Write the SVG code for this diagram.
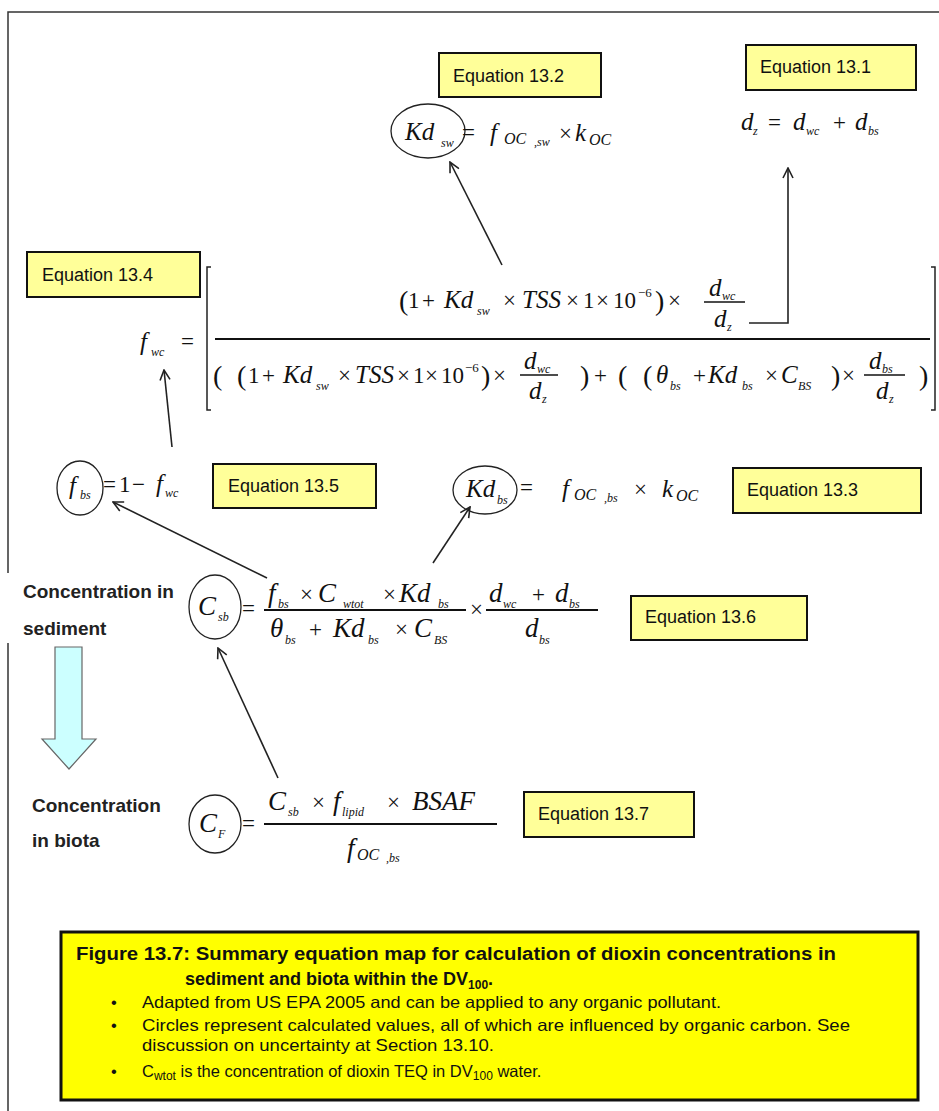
<svg xmlns="http://www.w3.org/2000/svg" width="939" height="1111" viewBox="0 0 939 1111">
<defs>
<style>
.box{fill:#FFFF99;stroke:#111;stroke-width:2}
.lbl{font-family:"Liberation Sans",Arial,sans-serif;font-size:18px;fill:#111}
.side{font-family:"Liberation Sans",Arial,sans-serif;font-size:19px;font-weight:bold;fill:#222}
.m{font-family:"Liberation Serif","Times New Roman",serif;fill:#111}
.v{font-style:italic;font-size:25px}
.vl{font-style:italic;font-size:27px}
.vm{font-style:italic;font-size:16px}
.vs{font-style:italic;font-size:12px}
.op{font-size:23px}
.p{font-size:28px}
.sup{font-size:13px}
.circ{fill:none;stroke:#222;stroke-width:1.3}
.fl{stroke:#111;stroke-width:2;fill:none}
.br{stroke:#222;stroke-width:1.5;fill:none}
.conn{fill:none;stroke:#222;stroke-width:1.6;marker-end:url(#ah)}
.cap{font-family:"Liberation Sans",Arial,sans-serif;fill:#111}
.capb{font-size:18px;font-weight:bold}
.capt{font-size:16.5px}
</style>
<marker id="ah" viewBox="0 0 12 12" refX="11" refY="6" markerWidth="12" markerHeight="12" markerUnits="userSpaceOnUse" orient="auto">
<path d="M1,1 L11,6 L1,11" fill="none" stroke="#222" stroke-width="1.6"/>
</marker>
</defs>
<rect width="939" height="1111" fill="#fff"/>
<path d="M8,1111 V643 M8,573 V12 H939" fill="none" stroke="#333" stroke-width="1.5"/>

<g id="connectors">
<path class="conn" d="M502,265 L450,162"/>
<path class="conn" d="M749,323 H788 V168"/>
<path class="conn" d="M172,447 L164,370"/>
<path class="conn" d="M267,578 L113,502"/>
<path class="conn" d="M433,563 L470,507"/>
<path class="conn" d="M278,778 L218,648"/>
</g>

<g id="eq13-2">
<rect class="box" x="439" y="53" width="162" height="44"/>
<text class="lbl" x="453" y="82">Equation 13.2</text>
<ellipse class="circ" cx="428" cy="131" rx="37" ry="27"/>
<text class="m v" x="405" y="140">Kd</text>
<text class="m vs" x="441" y="147">sw</text>
<text class="m op" x="462" y="140">=</text>
<text class="m v" x="490" y="141">f</text>
<text class="m vm" x="504" y="144">OC</text>
<text class="m vs" x="534" y="146">,sw</text>
<text class="m op" x="559" y="141">×</text>
<text class="m v" x="575" y="141">k</text>
<text class="m vm" x="589" y="145">OC</text>
</g>

<g id="eq13-1">
<rect class="box" x="746" y="45" width="170" height="45"/>
<text class="lbl" x="760" y="73">Equation 13.1</text>
<text class="m v" x="741" y="130">d</text>
<text class="m vs" x="753" y="135">z</text>
<text class="m op" x="768" y="130">=</text>
<text class="m v" x="793" y="130">d</text>
<text class="m vs" x="806" y="135">wc</text>
<text class="m op" x="833" y="130">+</text>
<text class="m v" x="855" y="130">d</text>
<text class="m vs" x="868" y="135">bs</text>
</g>

<g id="eq13-4">
<rect class="box" x="27" y="252" width="173" height="45"/>
<text class="lbl" x="42" y="281">Equation 13.4</text>
<text class="m v" x="140" y="350">f</text>
<text class="m vs" x="151" y="356">wc</text>
<text class="m op" x="181" y="349">=</text>
<path class="br" d="M211,267 H207 V410 H211 M931,267 H935 V410 H931"/>
<line class="fl" x1="215" y1="339" x2="930" y2="339"/>
<!-- numerator -->
<text class="m p" x="399" y="310">(</text>
<text class="m op" x="408" y="308">1</text>
<text class="m op" x="422" y="308">+</text>
<text class="m v" x="444" y="308">Kd</text>
<text class="m vs" x="477" y="315">sw</text>
<text class="m op" x="503" y="308">×</text>
<text class="m v" x="522" y="308">TSS</text>
<text class="m op" x="566" y="308">×</text>
<text class="m op" x="583" y="308">1</text>
<text class="m op" x="596" y="308">×</text>
<text class="m op" x="613" y="308">10</text>
<text class="m sup" x="638" y="297">−6</text>
<text class="m p" x="655" y="310">)</text>
<text class="m op" x="668" y="308">×</text>
<line class="fl" x1="704" y1="302" x2="745" y2="302" style="stroke-width:1.5"/>
<text class="m v" x="709" y="296">d</text>
<text class="m vs" x="722" y="300">wc</text>
<text class="m v" x="714" y="327">d</text>
<text class="m vs" x="727" y="331">z</text>
<!-- denominator -->
<text class="m p" x="213" y="385">(</text>
<text class="m p" x="237" y="385">(</text>
<text class="m op" x="248" y="383">1</text>
<text class="m op" x="262" y="383">+</text>
<text class="m v" x="283" y="383">Kd</text>
<text class="m vs" x="316" y="390">sw</text>
<text class="m op" x="338" y="383">×</text>
<text class="m v" x="355" y="383">TSS</text>
<text class="m op" x="397" y="383">×</text>
<text class="m op" x="413" y="383">1</text>
<text class="m op" x="425" y="383">×</text>
<text class="m op" x="441" y="383">10</text>
<text class="m sup" x="465" y="372">−6</text>
<text class="m p" x="481" y="385">)</text>
<text class="m op" x="493" y="383">×</text>
<line class="fl" x1="520" y1="375" x2="558" y2="375" style="stroke-width:1.5"/>
<text class="m v" x="524" y="369">d</text>
<text class="m vs" x="537" y="373">wc</text>
<text class="m v" x="529" y="399">d</text>
<text class="m vs" x="542" y="403">z</text>
<text class="m p" x="580" y="385">)</text>
<text class="m op" x="594" y="383">+</text>
<text class="m p" x="618" y="385">(</text>
<text class="m p" x="643" y="385">(</text>
<text class="m v" x="656" y="383">θ</text>
<text class="m vs" x="670" y="390">bs</text>
<text class="m op" x="693" y="383">+</text>
<text class="m v" x="708" y="383">Kd</text>
<text class="m vs" x="742" y="390">bs</text>
<text class="m op" x="765" y="383">×</text>
<text class="m v" x="781" y="383">C</text>
<text class="m vs" x="798" y="390">BS</text>
<text class="m p" x="831" y="385">)</text>
<text class="m op" x="842" y="383">×</text>
<line class="fl" x1="864" y1="375" x2="905" y2="375" style="stroke-width:1.5"/>
<text class="m v" x="869" y="369">d</text>
<text class="m vs" x="882" y="373">bs</text>
<text class="m v" x="876" y="399">d</text>
<text class="m vs" x="889" y="403">z</text>
<text class="m p" x="919" y="385">)</text>
</g>

<g id="eq13-5">
<rect class="box" x="213" y="464" width="163" height="44"/>
<text class="lbl" x="228" y="492">Equation 13.5</text>
<ellipse class="circ" cx="80" cy="488" rx="23" ry="27"/>
<text class="m v" x="69" y="494">f</text>
<text class="m vs" x="80" y="499">bs</text>
<text class="m op" x="103" y="492">=</text>
<text class="m op" x="119" y="492">1</text>
<text class="m op" x="132" y="492">−</text>
<text class="m v" x="156" y="492">f</text>
<text class="m vs" x="165" y="497">wc</text>
</g>

<g id="eq13-3">
<rect class="box" x="733" y="468" width="188" height="45"/>
<text class="lbl" x="747" y="496">Equation 13.3</text>
<ellipse class="circ" cx="485" cy="490" rx="32" ry="24"/>
<text class="m v" x="466" y="497">Kd</text>
<text class="m vs" x="497" y="504">bs</text>
<text class="m op" x="520" y="495">=</text>
<text class="m v" x="562" y="497">f</text>
<text class="m vm" x="574" y="500">OC</text>
<text class="m vs" x="604" y="502">,bs</text>
<text class="m op" x="634" y="497">×</text>
<text class="m v" x="662" y="497">k</text>
<text class="m vm" x="676" y="501">OC</text>
</g>

<g id="eq13-6">
<rect class="box" x="631" y="596" width="176" height="44"/>
<text class="lbl" x="645" y="623">Equation 13.6</text>
<text class="side" x="23" y="598">Concentration in</text>
<text class="side" x="23" y="635">sediment</text>
<ellipse class="circ" cx="215" cy="607" rx="26" ry="32"/>
<text class="m vl" x="198" y="615">C</text>
<text class="m vs" x="218" y="621">sb</text>
<text class="m op" x="242" y="616">=</text>
<text class="m vl" x="268" y="602">f</text>
<text class="m vs" x="278" y="608">bs</text>
<text class="m op" x="300" y="602">×</text>
<text class="m vl" x="318" y="602">C</text>
<text class="m vs" x="343" y="608">wtot</text>
<text class="m op" x="383" y="602">×</text>
<text class="m vl" x="399" y="602">Kd</text>
<text class="m vs" x="438" y="608">bs</text>
<line class="fl" x1="264" y1="610" x2="466" y2="610"/>
<text class="m vl" x="270" y="637">θ</text>
<text class="m vs" x="285" y="644">bs</text>
<text class="m op" x="309" y="637">+</text>
<text class="m vl" x="333" y="637">Kd</text>
<text class="m vs" x="368" y="644">bs</text>
<text class="m op" x="395" y="637">×</text>
<text class="m vl" x="414" y="637">C</text>
<text class="m vs" x="434" y="644">BS</text>
<text class="m op" x="470" y="617">×</text>
<text class="m vl" x="489" y="602">d</text>
<text class="m vs" x="503" y="608">wc</text>
<text class="m op" x="532" y="602">+</text>
<text class="m vl" x="555" y="602">d</text>
<text class="m vs" x="569" y="608">bs</text>
<line class="fl" x1="486" y1="610" x2="598" y2="610"/>
<text class="m vl" x="525" y="637">d</text>
<text class="m vs" x="539" y="644">bs</text>
</g>

<g id="sed-to-biota">
<polygon points="55,647 82,647 82,739 96,739 69,769 42,739 55,739" fill="#CCFFFF" stroke="#666" stroke-width="1.2"/>
</g>

<g id="eq13-7">
<rect class="box" x="524" y="792" width="170" height="45"/>
<text class="lbl" x="538" y="820">Equation 13.7</text>
<text class="side" x="32" y="812">Concentration</text>
<text class="side" x="32" y="847">in biota</text>
<ellipse class="circ" cx="215" cy="824" rx="26" ry="29"/>
<text class="m vl" x="199" y="832">C</text>
<text class="m vs" x="218" y="838">F</text>
<text class="m op" x="242" y="831">=</text>
<text class="m vl" x="268" y="810">C</text>
<text class="m vs" x="288" y="816">sb</text>
<text class="m op" x="312" y="810">×</text>
<text class="m vl" x="333" y="810">f</text>
<text class="m vs" x="342" y="816">lipid</text>
<text class="m op" x="387" y="810">×</text>
<text class="m vl" x="412" y="810">BSAF</text>
<line class="fl" x1="264" y1="824" x2="497" y2="824"/>
<text class="m vl" x="347" y="857">f</text>
<text class="m vm" x="357" y="860">OC</text>
<text class="m vs" x="386" y="862">,bs</text>
</g>

<g id="caption">
<rect x="61" y="932" width="857" height="168" fill="#FFFF00" stroke="#111" stroke-width="3"/>
<text class="cap capb" x="76" y="960" textLength="760" lengthAdjust="spacingAndGlyphs">Figure 13.7: Summary equation map for calculation of dioxin concentrations in</text>
<text class="cap capb" x="185" y="985">sediment and biota within the DV<tspan font-size="12" dy="4">100</tspan><tspan dy="-4">.</tspan></text>
<text class="cap capt" x="111" y="1008">•</text>
<text class="cap capt" x="142" y="1008" textLength="579" lengthAdjust="spacingAndGlyphs">Adapted from US EPA 2005 and can be applied to any organic pollutant.</text>
<text class="cap capt" x="111" y="1031">•</text>
<text class="cap capt" x="142" y="1031" textLength="708" lengthAdjust="spacingAndGlyphs">Circles represent calculated values, all of which are influenced by organic carbon. See</text>
<text class="cap capt" x="142" y="1051" textLength="352" lengthAdjust="spacingAndGlyphs">discussion on uncertainty at Section 13.10.</text>
<text class="cap capt" x="111" y="1077">•</text>
<text class="cap capt" x="142" y="1077">C<tspan font-size="12" dy="3">wtot</tspan><tspan dy="-3"> is the concentration of dioxin TEQ in DV</tspan><tspan font-size="12" dy="3">100</tspan><tspan dy="-3"> water.</tspan></text>
</g>
</svg>
